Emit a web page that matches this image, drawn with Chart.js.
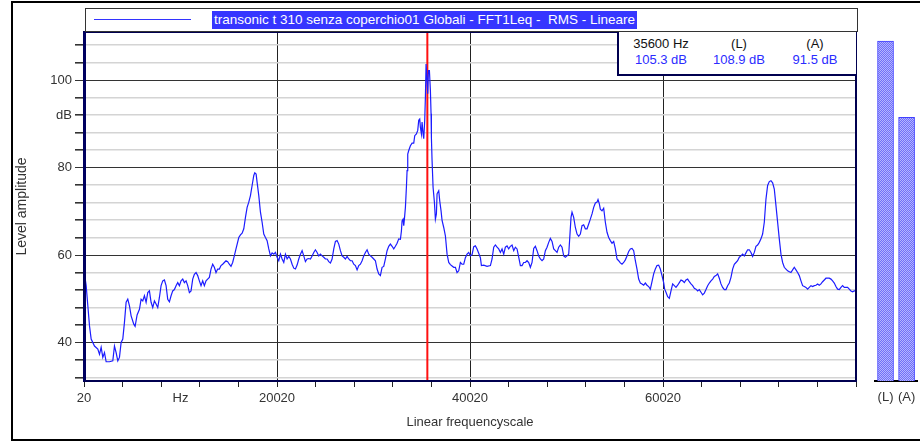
<!DOCTYPE html>
<html>
<head>
<meta charset="utf-8">
<script src="https://cdn.jsdelivr.net/npm/chart.js@4.4.1/dist/chart.umd.min.js"></script>
<style>
  html, body { margin: 0; padding: 0; background: #fff; }
  #page { position: relative; width: 920px; height: 443px; overflow: hidden; font-family: 'Liberation Sans', Arial, sans-serif; }
  #frame { position: absolute; left: 11px; top: 1px; width: 1000px; height: 436px; border: 2px solid #000; border-right: none; }
  canvas { position: absolute; top: 0; }
  #spectrum { left: 0; }
  #levels { left: 864px; }
  #legend { position: absolute; left: 85px; top: 8px; width: 771px; height: 22px; border: 1px solid #333; background: #fff; }
  #legend .sample { position: absolute; left: 8px; top: 10px; width: 97px; height: 1px; background: #3333ff; }
  #legend .name { position: absolute; left: 126px; top: 2px; height: 18px; line-height: 18px; padding: 0 2px; background: #3636ff; color: #fff; font-size: 13.5px; white-space: pre; }
  #cursorBox { position: absolute; left: 617px; top: 32px; width: 237px; height: 42px; background: #fff; border-left: 2px solid #000050; border-bottom: 2px solid #000050; }
  #cursorBox div { position: absolute; width: 76px; text-align: center; font-size: 13px; line-height: 15px; }
  #cursorBox .head { color: #111; top: 4px; }
  #cursorBox .val { color: #2b2bff; top: 20px; }
</style>
</head>
<body>
<div id="page">
  <div id="frame"></div>
  <canvas id="spectrum" width="920" height="443"></canvas>
  <canvas id="levels" width="62" height="443"></canvas>
  <div id="legend"><div class="sample"></div><div class="name"></div></div>
  <div id="cursorBox"></div>
</div>
<script>
const seriesName = 'transonic t 310 senza coperchio01 Globali - FFT1Leq -  RMS - Lineare';

// frequency bins (Hz) and level (dB)
const freqHz = [
  20, 245, 417, 590, 762, 1107, 1452, 1625, 1797, 1970,
  2142, 2315, 2660, 3005, 3177, 3350, 3522, 3695, 3867, 4040,
  4212, 4385, 4557, 4730, 4902, 5178, 5316, 5523, 5765, 5937,
  6110, 6282, 6455, 6627, 6800, 6972, 7145, 7317, 7490, 7662,
  7835, 8007, 8180, 8352, 8525, 8697, 8870, 9042, 9215, 9387,
  9560, 9732, 9905, 10077, 10250, 10422, 10595, 10767, 10940, 11112,
  11285, 11457, 11630, 11802, 11975, 12147, 12320, 12492, 12665, 12837,
  13010, 13182, 13355, 13527, 13700, 13872, 14045, 14217, 14390, 14562,
  14735, 14907, 15080, 15252, 15425, 15597, 15770,
  16060, 16233, 16406, 16578, 16751, 16924, 17096, 17269, 17441, 17614,
  17718, 17856, 17959, 18132, 18305, 18477, 18650, 18823, 18995, 19168,
  19341, 19513, 19686, 19859, 20031, 20204, 20377, 20549, 20722, 20895,
  21067, 21240, 21413, 21585, 21758, 21931, 22103, 22276, 22448, 22621,
  22794, 22966, 23139, 23312, 23484, 23657, 23830, 24002, 24175, 24348,
  24520, 24693, 24866, 25038, 25211, 25384, 25556, 25729, 25902, 26074,
  26247, 26420, 26592, 26765, 26938, 27110, 27283, 27456, 27628, 27801,
  27974, 28146, 28319, 28491, 28664, 28837, 29009, 29182, 29355, 29527,
  29700, 29873, 30045, 30218, 30391, 30563, 30736, 30909, 31081, 31254,
  31427, 31599, 31772, 31945, 32117, 32290, 32463, 32635,
  32809, 32913, 32981, 33085, 33154, 33223, 33327, 33430, 33499, 33568,
  33672, 33845, 34017, 34190, 34294, 34466, 34604, 34708, 34811, 34880,
  34984, 35053, 35157, 35226, 35329, 35398, 35467, 35571, 35640, 35709,
  35813, 35916, 35985, 36020, 36089, 36193, 36331, 36434, 36538, 36607,
  36780, 36883, 37021, 37125, 37298, 37470, 37643, 37816, 37988, 38161,
  38334, 38506, 38679, 38852, 39024, 39197, 39370, 39542, 39715, 39888,
  40060, 40233, 40406, 40578, 40751, 40924, 41096,
  41201, 41442, 41788, 42133, 42306, 42478, 42651, 42824, 42996, 43169,
  43341, 43514, 43687, 43859, 44032, 44205, 44377, 44550, 44723, 44895,
  45068, 45241, 45413, 45586, 45759, 45931, 46104, 46277, 46449, 46622,
  46794, 46967, 47140, 47312, 47485, 47658, 47830, 48003, 48176, 48348,
  48521, 48694, 48866, 49039, 49212, 49384, 49557, 49730, 49902, 50075,
  50248, 50351, 50489, 50593, 50765, 50938, 51111, 51283, 51456, 51629,
  51801, 51974, 52147, 52319, 52492, 52665, 52837, 53010, 53183, 53286,
  53424, 53528, 53701, 53873, 54046, 54219, 54391, 54564, 54736, 54909,
  55082, 55254, 55427, 55600, 55772, 55945, 56118, 56290, 56463, 56636,
  56808, 56981, 57154, 57326, 57499, 57672, 57844, 58017, 58190, 58362,
  58535, 58708, 58880, 59053, 59226, 59398, 59571, 59744, 59916, 60089,
  60192, 60330, 60503, 60676, 60848, 61021, 61194, 61366, 61539, 61712,
  61884, 62057, 62229, 62402, 62575, 62747, 62920, 63093, 63265, 63438,
  63611, 63783, 63956, 64129, 64301, 64474, 64647, 64819, 64992, 65165,
  65337, 65510, 65683, 65855, 66028, 66200, 66373, 66546, 66718, 66891,
  67064, 67236, 67409, 67582, 67754, 67927, 68100, 68272, 68445, 68618,
  68790, 68963, 69136, 69308, 69481, 69654, 69826, 69999, 70172, 70344,
  70517, 70690, 70862, 71035, 71208, 71380, 71553, 71726, 71898, 72071,
  72244, 72416, 72589, 72762, 72934, 73107, 73280, 73452, 73625, 73798,
  73970, 74143, 74316, 74488, 74661, 74834, 75006, 75179, 75352, 75524,
  75697, 75870, 76042, 76215, 76388, 76560, 76733, 76906, 77078, 77251,
  77424, 77596, 77769, 77942, 78114, 78287, 78460, 78632, 78805, 78978,
  79150, 79323, 79496, 79668, 79841, 80020
];
const levelDb = [
  56.5, 53.0, 48.4, 43.8, 40.8, 39.2, 38.5, 37.3, 38.9, 36.6,
  37.7, 35.6, 35.6, 35.8, 39.2, 37.7, 35.8, 36.6, 40.0, 40.8,
  44.6, 49.2, 49.9, 48.4, 46.1, 44.2, 43.7, 46.3, 47.6, 49.9,
  49.5, 50.7, 49.2, 51.4, 51.8, 49.2, 48.0, 49.5, 48.8, 48.0,
  50.3, 53.0, 54.1, 54.3, 53.0, 49.9, 49.3, 50.7, 51.8, 52.1,
  53.0, 53.7, 53.0, 54.1, 54.5, 53.7, 54.1, 53.0, 51.4, 51.8,
  54.5, 55.6, 56.0, 55.3, 54.1, 53.0, 54.1, 53.0, 54.1, 54.5,
  54.9, 56.8, 57.9, 57.2, 56.0, 56.8, 56.8, 57.6, 57.9, 58.3,
  58.7, 58.5, 57.9, 57.4, 58.3, 59.8, 61.4,
  64.0, 64.6, 65.0, 66.0, 68.6, 70.9, 72.1, 73.6, 75.9, 78.2,
  78.8, 78.5, 76.6, 73.6, 69.8, 67.5, 64.8, 64.0, 63.3, 61.4,
  59.8, 60.5, 60.2, 60.6, 59.5, 58.7, 60.2, 59.1, 58.3, 60.2,
  59.1, 59.7, 59.1, 57.9, 57.0, 56.8, 57.7, 59.1, 60.2, 61.0,
  59.8, 58.5, 59.1, 59.2, 59.1, 59.8, 60.6, 61.2, 60.6, 59.8,
  60.2, 59.8, 59.5, 59.1, 59.1, 58.5, 58.2, 59.1, 61.4, 63.1,
  63.3, 62.5, 61.0, 59.8, 59.5, 59.1, 59.7, 59.1, 58.7, 58.7,
  57.9, 57.6, 56.6, 57.6, 57.9, 58.7, 59.8, 60.6, 61.2, 60.2,
  59.8, 59.5, 59.1, 58.7, 56.8, 55.7, 55.3, 57.2, 57.4, 59.1,
  61.0, 62.0, 62.5, 62.0, 61.4, 62.0, 62.7, 63.7,
  63.6, 65.5, 67.8, 68.2, 66.7, 68.2, 70.9, 75.5, 79.3, 83.1,
  83.9, 85.0, 85.6, 85.6, 87.3, 87.7, 88.5, 90.8, 91.1, 89.2,
  87.7, 90.4, 87.7, 86.6, 90.8, 96.1, 103.7, 99.9, 96.9, 102.2,
  102.2, 97.6, 92.3, 86.9, 81.6, 75.5, 72.1, 68.2, 69.4, 74.0,
  74.7, 72.4, 70.1, 67.9, 66.3, 64.4, 60.2, 58.3, 57.8, 57.5,
  57.2, 57.2, 56.0, 56.4, 58.3, 57.9, 57.9, 59.4, 60.2, 60.6,
  59.8, 60.1, 61.9, 62.1, 61.4, 60.4, 59.4,
  57.6, 57.7, 57.4, 57.6, 59.1, 61.8, 62.3, 61.8, 61.4, 60.6,
  61.4, 60.2, 61.8, 62.1, 61.4, 62.0, 62.3, 61.0, 61.8, 61.4,
  59.5, 57.6, 57.6, 58.3, 58.3, 58.7, 58.3, 57.2, 58.3, 61.5,
  62.0, 61.0, 59.8, 59.1, 58.7, 59.1, 61.0, 61.8, 62.9, 63.8,
  63.1, 61.4, 61.0, 60.6, 61.8, 62.3, 61.8, 59.8, 59.5, 59.8,
  60.2, 63.7, 68.6, 69.8, 68.6, 66.3, 64.8, 64.3, 64.8, 66.7,
  66.9, 66.0, 66.0, 67.1, 68.2, 69.4, 70.9, 71.9, 72.1, 72.7,
  71.7, 70.5, 70.1, 70.7, 67.5, 65.2, 64.0, 63.3, 62.7, 63.1,
  61.4, 59.1, 58.7, 58.2, 57.9, 58.3, 58.9, 59.8, 60.8, 61.4,
  61.5, 61.0, 58.7, 56.8, 54.5, 53.6, 53.4, 53.1, 53.6, 53.1,
  52.8, 52.2, 53.9, 55.7, 56.8, 57.6, 57.7, 56.8, 55.3, 53.7,
  52.2, 51.5, 50.5, 50.1, 51.8, 53.4, 53.0, 52.6, 53.1, 53.7,
  54.3, 54.1, 53.7, 54.3, 54.5, 53.9, 53.4, 53.0, 52.4, 52.2,
  51.8, 52.1, 51.5, 50.9, 51.3, 52.1, 53.0, 53.6, 54.1, 54.5,
  55.1, 55.3, 55.7, 54.7, 53.4, 52.6, 52.1, 52.1, 53.0, 53.6,
  54.9, 56.8, 57.9, 58.3, 58.7, 59.5, 59.8, 60.2, 59.8, 60.5,
  61.2, 61.2, 60.6, 59.7, 60.6, 62.0, 62.3, 62.9, 63.7, 64.8,
  67.5, 72.8, 75.9, 76.8, 77.0, 76.5, 75.1, 71.3, 67.5, 63.7,
  60.2, 58.3, 57.2, 56.8, 56.4, 56.2, 56.0, 56.6, 57.2, 56.6,
  56.0, 55.3, 54.1, 53.0, 52.8, 52.6, 52.2, 52.6, 53.0, 52.8,
  53.0, 53.1, 53.4, 53.1, 53.4, 53.9, 54.3, 54.7, 54.7, 54.7,
  54.5, 54.1, 53.6, 52.8, 52.2, 52.1, 52.6, 53.0, 52.6, 52.6,
  52.6, 52.2, 51.8, 51.6, 51.8, 51.8
];

// cursor readout
const cursorHz = 35600;
const cursorDb = 105.3;

// overall levels (bars on the right)
const overallLabels = ['(L)', '(A)'];
const overallDb = [108.9, 91.5];

// axis labels
const xLabelValues = [20, 10020, 20020, 40020, 60020];
const xLabelTexts = ['20', 'Hz', '20020', '40020', '60020'];
const xMajorGrid = [20020, 40020, 60020];
const yLabelValues = [40, 60, 80, 92, 100];
const yLabelTexts = ['40', '60', '80', 'dB', '100'];

const X_MIN = 20, X_MAX = 80020;
const Y_MIN = 31.2, Y_MAX = 111;

Chart.defaults.font.family = "'Liberation Sans', Arial, sans-serif";
Chart.defaults.font.size = 13;
Chart.defaults.color = '#333';

// html bits: legend and cursor box
document.querySelector('#legend .name').textContent = seriesName;
const cb = document.getElementById('cursorBox');
const cols = [
  [cursorHz + ' Hz', cursorDb.toFixed(1) + ' dB'],
  [overallLabels[0], overallDb[0].toFixed(1) + ' dB'],
  [overallLabels[1], overallDb[1].toFixed(1) + ' dB']
];
const colLeft = [4, 82, 158];
cols.forEach((c, i) => {
  cb.innerHTML += `<div class="head" style="left:${colLeft[i]}px">${c[0]}</div>` +
                  `<div class="val" style="left:${colLeft[i]}px">${c[1]}</div>`;
});

const cursorLine = {
  id: 'cursorLine',
  beforeDatasetsDraw(chart) {
    const { ctx, chartArea: a, scales: { x } } = chart;
    const px = x.getPixelForValue(cursorHz);
    ctx.save();
    ctx.strokeStyle = '#ff1010';
    ctx.lineWidth = 2;
    ctx.beginPath();
    ctx.moveTo(px, a.top);
    ctx.lineTo(px, a.bottom);
    ctx.stroke();
    ctx.restore();
  },
  afterDraw(chart) {
    const { ctx, chartArea: a } = chart;
    ctx.save();
    ctx.strokeStyle = '#000050';
    ctx.lineWidth = 2;
    ctx.strokeRect(a.left, a.top, a.width, a.height);
    ctx.fillStyle = '#000060';
    ctx.fillRect(a.left - 1, a.top, 3, a.height);
    ctx.restore();
  }
};

const xTicks = [];
for (let v = X_MIN; v <= X_MAX; v += 2000) xTicks.push(v);
const yTicks = [];
for (let v = 32; v <= 108; v += 4) yTicks.push(v);

new Chart(document.getElementById('spectrum'), {
  type: 'line',
  data: {
    datasets: [{
      data: freqHz.map((f, i) => ({ x: f, y: levelDb[i] })),
      borderColor: '#1c1cff',
      borderWidth: 1.2,
      pointRadius: 0,
      tension: 0
    }]
  },
  options: {
    responsive: false,
    animation: false,
    layout: { padding: { left: 12, top: 32, right: 64, bottom: 8 } },
    plugins: { legend: { display: false }, tooltip: { enabled: false } },
    scales: {
      x: {
        type: 'linear', min: X_MIN, max: X_MAX,
        afterBuildTicks: s => { s.ticks = xTicks.map(v => ({ value: v })); },
        afterFit: s => { s.height = 54; },
        grid: {
          color: c => xMajorGrid.includes(c.tick.value) ? '#222' : 'rgba(0,0,0,0)',
          tickColor: c => (c.tick.value - X_MIN) % 4000 === 0 ? '#222' : 'rgba(0,0,0,0)',
          tickLength: 6,
          lineWidth: 1
        },
        border: { display: true, color: '#000050', width: 2 },
        ticks: {
          autoSkip: false, maxRotation: 0, padding: 4,
          callback: v => { const i = xLabelValues.indexOf(v); return i < 0 ? '' : xLabelTexts[i]; }
        },
        title: { display: true, text: 'Linear frequencyscale', font: { size: 13 }, padding: { top: 0, bottom: 5 } }
      },
      y: {
        type: 'linear', min: Y_MIN, max: Y_MAX,
        afterBuildTicks: s => { s.ticks = yTicks.map(v => ({ value: v })); },
        afterFit: s => { s.width = 72; },
        grid: {
          color: c => c.tick.value % 20 === 0 ? '#333' : '#d4d4d4',
          lineWidth: c => c.tick.value % 20 === 0 ? 1 : 1.6,
          tickColor: '#333',
          tickLength: 9
        },
        border: { display: true, color: '#000060', width: 3 },
        ticks: {
          autoSkip: false, padding: 3,
          callback: v => { const i = yLabelValues.indexOf(v); return i < 0 ? '' : yLabelTexts[i]; }
        },
        title: { display: true, text: 'Level amplitude', font: { size: 14 }, padding: { top: 2, bottom: 0 } }
      }
    }
  },
  plugins: [cursorLine]
});

// checkered blue fill for the overall bars
const tile = document.createElement('canvas');
tile.width = 2; tile.height = 2;
const tctx = tile.getContext('2d');
tctx.fillStyle = '#6f6ff8'; tctx.fillRect(0, 0, 2, 2);
tctx.fillStyle = '#b4b4ff'; tctx.fillRect(0, 0, 1, 1); tctx.fillRect(1, 1, 1, 1);
const barFill = tctx.createPattern(tile, 'repeat');

new Chart(document.getElementById('levels'), {
  type: 'bar',
  data: {
    labels: overallLabels,
    datasets: [{
      data: overallDb,
      backgroundColor: barFill,
      borderColor: '#4040ff',
      borderWidth: 1,
      barThickness: 16
    }]
  },
  options: {
    responsive: false,
    animation: false,
    layout: { padding: { left: 11, right: 7, top: 32, bottom: 30 } },
    plugins: { legend: { display: false }, tooltip: { enabled: false } },
    scales: {
      y: { display: false, min: Y_MIN, max: Y_MAX },
      x: {
        afterFit: s => { s.height = 32; },
        grid: { display: false, drawTicks: false },
        border: { display: true, color: '#000', width: 2 },
        ticks: { padding: 9, autoSkip: false, maxRotation: 0, minRotation: 0 }
      }
    }
  }
});
</script>
</body>
</html>
